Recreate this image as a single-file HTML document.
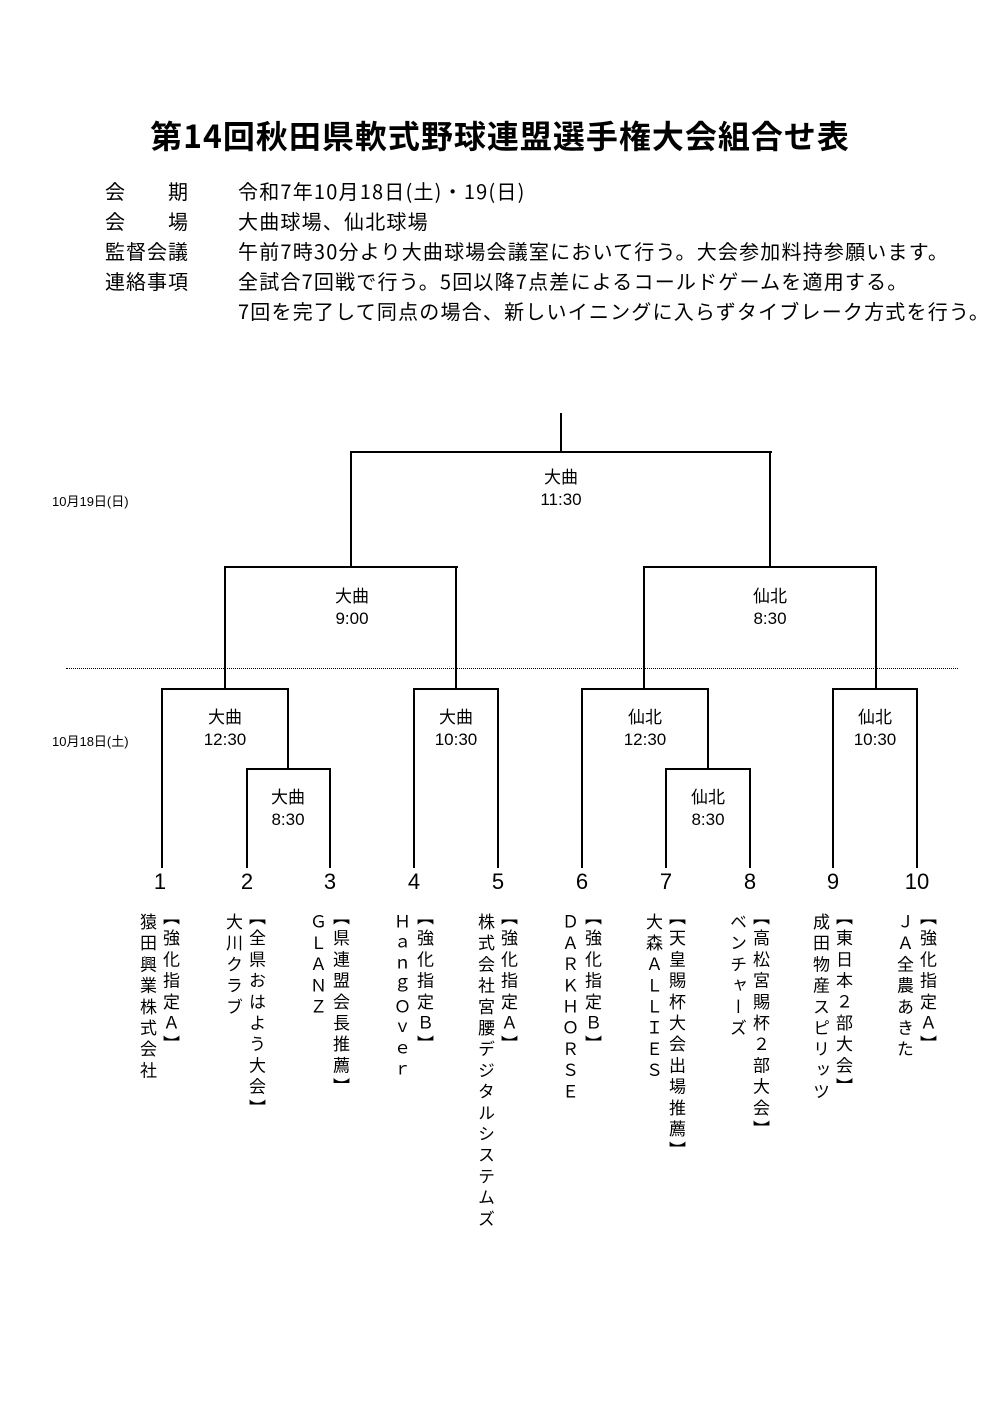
<!DOCTYPE html>
<html><head><meta charset="utf-8">
<style>
body{margin:0;background:#fff;}
#p{position:relative;width:1000px;height:1413px;overflow:hidden;font-family:"Liberation Sans","Noto Sans CJK JP",sans-serif;color:#000;}
.t{position:absolute;white-space:nowrap;}
.h{position:absolute;background:#000;height:2px;}
.v{position:absolute;background:#000;width:2px;}
.lb{position:absolute;text-align:center;font-size:17px;line-height:22px;width:120px;}
.n{position:absolute;font-size:22px;width:40px;text-align:center;top:869px;}
.vt{position:absolute;writing-mode:vertical-rl;text-orientation:upright;font-size:17px;letter-spacing:4.2px;line-height:18px;width:18px;white-space:nowrap;font-family:"Noto Sans CJK JP","Liberation Sans",sans-serif;}
</style></head><body><div id="p">
<div class="t" style="left:0;width:1000px;text-align:center;top:112px;font-size:32px;letter-spacing:1px;font-weight:bold;font-family:'Noto Sans CJK JP',sans-serif;">第14回秋田県軟式野球連盟選手権大会組合せ表</div>
<div class="t" style="left:105px;top:176px;font-size:20px;line-height:30px;letter-spacing:1px;font-family:'Noto Sans CJK JP',sans-serif;">会　　期<br>会　　場<br>監督会議<br>連絡事項</div>
<div class="t" style="left:238px;top:176px;font-size:20px;line-height:30px;letter-spacing:1.2px;font-family:'Noto Sans CJK JP',sans-serif;">令和7年10月18日(土)・19(日)<br>大曲球場、仙北球場<br>午前7時30分より大曲球場会議室において行う。大会参加料持参願います。<br>全試合7回戦で行う。5回以降7点差によるコールドゲームを適用する。<br>7回を完了して同点の場合、新しいイニングに入らずタイブレーク方式を行う。</div>

<div class="t" style="left:52px;top:491px;font-size:13px;">10月19日(日)</div>
<div class="t" style="left:52px;top:731px;font-size:13px;">10月18日(土)</div>
<div style="position:absolute;left:66px;top:668px;width:892px;border-top:1px dotted #000;"></div>

<div class="v" style="left:560px;top:413px;height:40px"></div>
<div class="h" style="left:350px;top:451px;width:422px"></div>
<div class="v" style="left:350px;top:451px;height:117px"></div>
<div class="v" style="left:769px;top:451px;height:117px"></div>
<div class="lb" style="left:501px;top:467px">大曲<br>11:30</div>
<div class="h" style="left:224px;top:566px;width:234px"></div>
<div class="v" style="left:224px;top:566px;height:124px"></div>
<div class="v" style="left:455px;top:566px;height:124px"></div>
<div class="lb" style="left:292px;top:586px">大曲<br>9:00</div>
<div class="h" style="left:643px;top:566px;width:234px"></div>
<div class="v" style="left:643px;top:566px;height:124px"></div>
<div class="v" style="left:875px;top:566px;height:124px"></div>
<div class="lb" style="left:710px;top:586px">仙北<br>8:30</div>

<div class="h" style="left:161px;top:688px;width:128px"></div>
<div class="v" style="left:161px;top:688px;height:180px"></div>
<div class="v" style="left:287px;top:688px;height:82px"></div>
<div class="lb" style="left:165px;top:707px">大曲<br>12:30</div>
<div class="h" style="left:246px;top:768px;width:85px"></div>
<div class="v" style="left:246px;top:768px;height:100px"></div>
<div class="v" style="left:329px;top:768px;height:100px"></div>
<div class="lb" style="left:228px;top:787px">大曲<br>8:30</div>

<div class="h" style="left:413px;top:688px;width:86px"></div>
<div class="v" style="left:413px;top:688px;height:180px"></div>
<div class="v" style="left:497px;top:688px;height:180px"></div>
<div class="lb" style="left:396px;top:707px">大曲<br>10:30</div>

<div class="h" style="left:581px;top:688px;width:128px"></div>
<div class="v" style="left:581px;top:688px;height:180px"></div>
<div class="v" style="left:707px;top:688px;height:82px"></div>
<div class="lb" style="left:585px;top:707px">仙北<br>12:30</div>
<div class="h" style="left:665px;top:768px;width:86px"></div>
<div class="v" style="left:665px;top:768px;height:100px"></div>
<div class="v" style="left:749px;top:768px;height:100px"></div>
<div class="lb" style="left:648px;top:787px">仙北<br>8:30</div>

<div class="h" style="left:832px;top:688px;width:86px"></div>
<div class="v" style="left:832px;top:688px;height:180px"></div>
<div class="v" style="left:916px;top:688px;height:180px"></div>
<div class="lb" style="left:815px;top:707px">仙北<br>10:30</div>

<div class="n" style="left:140px">1</div>
<div class="n" style="left:227px">2</div>
<div class="n" style="left:310px">3</div>
<div class="n" style="left:394px">4</div>
<div class="n" style="left:478px">5</div>
<div class="n" style="left:562px">6</div>
<div class="n" style="left:646px">7</div>
<div class="n" style="left:730px">8</div>
<div class="n" style="left:813px">9</div>
<div class="n" style="left:897px">10</div>

<div class="vt" style="left:162px;top:908px">【強化指定Ａ】</div>
<div class="vt" style="left:139px;top:913px">猿田興業株式会社</div>
<div class="vt" style="left:248px;top:908px">【全県おはよう大会】</div>
<div class="vt" style="left:225px;top:913px">大川クラブ</div>
<div class="vt" style="left:332px;top:908px">【県連盟会長推薦】</div>
<div class="vt" style="left:309px;top:913px">ＧＬＡＮＺ</div>
<div class="vt" style="left:416px;top:908px">【強化指定Ｂ】</div>
<div class="vt" style="left:393px;top:913px">ＨａｎｇＯｖｅｒ</div>
<div class="vt" style="left:500px;top:908px">【強化指定Ａ】</div>
<div class="vt" style="left:477px;top:913px">株式会社宮腰デジタルシステムズ</div>
<div class="vt" style="left:584px;top:908px">【強化指定Ｂ】</div>
<div class="vt" style="left:561px;top:913px">ＤＡＲＫＨＯＲＳＥ</div>
<div class="vt" style="left:668px;top:908px">【天皇賜杯大会出場推薦】</div>
<div class="vt" style="left:645px;top:913px">大森ＡＬＬＩＥＳ</div>
<div class="vt" style="left:752px;top:908px">【高松宮賜杯２部大会】</div>
<div class="vt" style="left:729px;top:913px">ベンチャーズ</div>
<div class="vt" style="left:835px;top:908px">【東日本２部大会】</div>
<div class="vt" style="left:812px;top:913px">成田物産スピリッツ</div>
<div class="vt" style="left:919px;top:908px">【強化指定Ａ】</div>
<div class="vt" style="left:896px;top:913px">ＪＡ全農あきた</div>
</div></body></html>
